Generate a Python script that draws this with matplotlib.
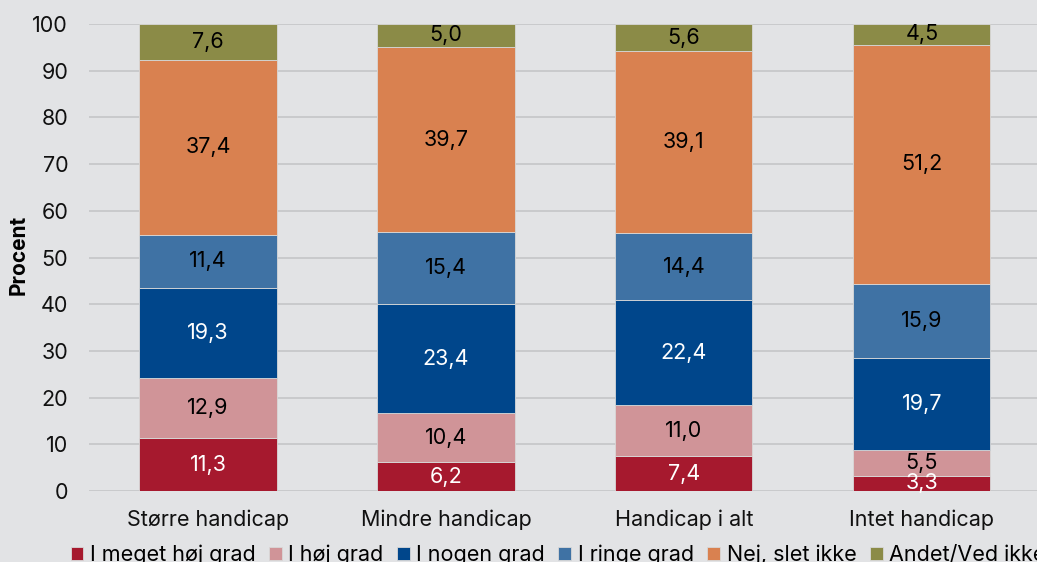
import matplotlib
matplotlib.use('Agg')
import matplotlib.pyplot as plt
import numpy as np

plt.rcParams['font.family'] = ['Inter', 'DejaVu Sans']

categories = ['Større handicap', 'Mindre handicap', 'Handicap i alt', 'Intet handicap']
series = ['I meget høj grad', 'I høj grad', 'I nogen grad', 'I ringe grad',
          'Nej, slet ikke', 'Andet/Ved ikke']
meget_hoej = [11.3, 6.2, 7.4, 3.3]
hoej = [12.9, 10.4, 11.0, 5.5]
nogen = [19.3, 23.4, 22.4, 19.7]
ringe = [11.4, 15.4, 14.4, 15.9]
slet_ikke = [37.4, 39.7, 39.1, 51.2]
andet = [7.6, 5.0, 5.6, 4.5]

values = [meget_hoej, hoej, nogen, ringe, slet_ikke, andet]
colors = ['#a6192e', '#d09498', '#00468b', '#3f72a4', '#d98150', '#8b8b47']
text_colors = ['white', 'black', 'white', 'black', 'black', 'black']

bg = '#e2e3e5'
fs = 15.5
fig = plt.figure(figsize=(10.37, 5.62), dpi=100, facecolor=bg)
ax = fig.add_axes([0.0858, 0.1263, 0.918, 0.831], facecolor=bg)

x = np.arange(len(categories))
width = 0.576
bottom = np.zeros(len(categories))
for vals, name, col, tcol in zip(values, series, colors, text_colors):
    vals = np.array(vals)
    bars = ax.bar(x, vals, width, bottom=bottom, color=col, label=name,
                  edgecolor='#d8d8d8', linewidth=0.6, zorder=3)
    for rect, v, b in zip(bars, vals, bottom):
        ax.text(rect.get_x() + rect.get_width() / 2, b + v / 2,
                '{:.1f}'.format(v).replace('.', ','),
                ha='center', va='center', color=tcol, fontsize=fs, zorder=4)
    bottom += vals

ax.set_xlim(-0.5, 3.5)
ax.set_ylim(0, 100)
ax.set_yticks(np.arange(0, 101, 10))
ax.set_xticks(x)
ax.set_xticklabels(categories)
ax.tick_params(axis='both', length=0, labelsize=fs, colors='#111111')
ax.tick_params(axis='y', pad=15)
ax.tick_params(axis='x', pad=13)
ax.grid(axis='y', color='#c4c5c7', linewidth=1.2, zorder=0)
for s in ax.spines.values():
    s.set_visible(False)
ax.set_ylabel('Procent', fontsize=15, fontweight='bold')
ax.yaxis.set_label_coords(-0.063, 0.505)

fig.legend(loc='center left', bbox_to_anchor=(0.068, 1 - 555 / 562), ncol=6,
           frameon=False, fontsize=fs, handlelength=0.6, handleheight=0.6,
           handletextpad=0.3, columnspacing=0.62, borderaxespad=0, borderpad=0)

fig.savefig('out.png', dpi=100, facecolor=bg)
